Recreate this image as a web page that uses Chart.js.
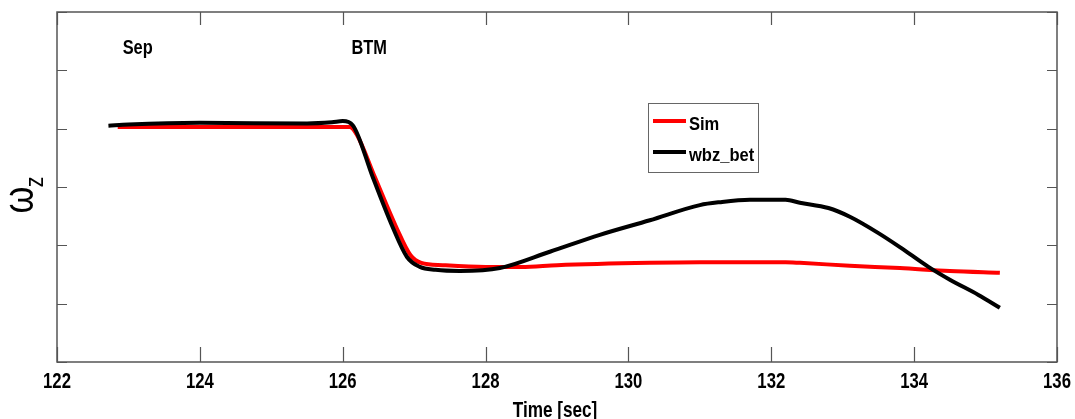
<!DOCTYPE html>
<html><head><meta charset="utf-8">
<script src="https://cdn.jsdelivr.net/npm/chart.js@4.4.1/dist/chart.umd.min.js"></script>
<style>html,body{margin:0;padding:0;background:#fff}#wrap{width:1075px;height:419px}</style>
</head><body><div id="wrap"><canvas id="c" width="1075" height="419"></canvas></div>
<script>
const simTime = [122.85,126.1,126.2,126.45,126.75,126.95,127.1,127.4,128,128.5,129,130.3,131,132.2,132.4,133.1,133.8,134.5,135.2];
const simVal  = [4.03,4.03,3.89,3.17,2.31,1.83,1.70,1.66,1.63,1.63,1.66,1.70,1.71,1.71,1.70,1.65,1.61,1.56,1.53];
const betTime = [122.72,123.0,124.0,125.5,125.85,126.0,126.14,126.42,126.7,126.9,127.08,127.3,127.64,128.2,128.9,129.6,130.3,131.0,131.28,131.7,132.2,132.4,132.8,133.1,133.5,133.8,134.2,134.5,134.9,135.2];
const betVal  = [4.05,4.07,4.10,4.09,4.11,4.13,4.06,3.17,2.31,1.80,1.63,1.58,1.56,1.61,1.89,2.18,2.43,2.69,2.74,2.78,2.78,2.73,2.64,2.49,2.21,1.97,1.63,1.41,1.15,0.93];
const xTicks = [122,124,126,128,130,132,134,136];
const yTicks = [0,1,2,3,4,5,6];
const seriesNames = ['Sim','wbz_bet'];
const eventLabels = ['Sep','BTM'];
const eventTimes = [123.13,126.37];
const xTitle = 'Time [sec]';

const FONT = "'Liberation Sans',Arial,sans-serif";
const toXY = (xs, ys) => xs.map((x,i)=>({x:x,y:ys[i]}));

function narrowText(ctx, text, x, y, font, sx, align, base){
  ctx.save();
  ctx.translate(x, y); ctx.scale(sx, 1);
  ctx.font = font; ctx.textAlign = align || 'center'; ctx.textBaseline = base || 'alphabetic';
  ctx.fillText(text, 0, 0);
  ctx.restore();
}

const framePlugin = {
  id:'frame',
  afterDraw(chart){
    const ctx = chart.ctx, a = chart.chartArea, xs = chart.scales.x, ys = chart.scales.y;
    ctx.save();
    ctx.strokeStyle = '#555'; ctx.lineWidth = 1.5;
    ctx.strokeRect(a.left, a.top, a.right-a.left, a.bottom-a.top);
    ctx.lineWidth = 1.2; ctx.strokeStyle='#555';
    xTicks.forEach(t=>{
      const px = Math.round(xs.getPixelForValue(t))+0.5;
      ctx.beginPath(); ctx.moveTo(px,a.bottom); ctx.lineTo(px,a.bottom-15);
      ctx.moveTo(px,a.top); ctx.lineTo(px,a.top+13); ctx.stroke();
    });
    yTicks.forEach(t=>{
      const py = Math.round(ys.getPixelForValue(t))+0.5;
      ctx.beginPath(); ctx.moveTo(a.left,py); ctx.lineTo(a.left+10,py);
      ctx.moveTo(a.right,py); ctx.lineTo(a.right-10,py); ctx.stroke();
    });
    ctx.fillStyle='#000';
    xTicks.forEach(t=>narrowText(ctx, String(t), xs.getPixelForValue(t), a.bottom+26, "bold 22px "+FONT, 0.76));
    narrowText(ctx, xTitle, (a.left+a.right)/2 - 2, 417, "bold 22px "+FONT, 0.78);
    eventLabels.forEach((s,i)=>narrowText(ctx, s, xs.getPixelForValue(eventTimes[i]), a.top+42, "bold 21px "+FONT, 0.78));
    // y label (omega with subscript z)
    ctx.save();
    ctx.translate(33, 200);
    ctx.rotate(-Math.PI/2);
    ctx.scale(0.82, 1);
    ctx.textAlign='center'; ctx.textBaseline='alphabetic';
    ctx.font = "42px "+FONT;
    ctx.fillText('ω', 0, 0);
    ctx.font = "26px "+FONT;
    ctx.fillText('z', 22, 10);
    ctx.restore();
    // legend
    const lx = 648, ly = 103, lw = 110, lh = 69;
    ctx.fillStyle='#fff'; ctx.fillRect(lx,ly,lw,lh);
    ctx.strokeStyle='#666'; ctx.lineWidth=1; ctx.strokeRect(lx+0.5,ly+0.5,lw,lh);
    const cols = ['#ff0000','#000000'];
    seriesNames.forEach((n,i)=>{
      const yy = ly + 18 + i*31;
      ctx.strokeStyle = cols[i]; ctx.lineWidth = 4;
      ctx.beginPath(); ctx.moveTo(lx+5,yy); ctx.lineTo(lx+38,yy); ctx.stroke();
      ctx.fillStyle='#000';
      narrowText(ctx, n, lx+41, yy+9, "bold 19px "+FONT, 0.87, 'left');
    });
    ctx.restore();
  }
};

new Chart(document.getElementById('c'), {
  type:'line',
  data:{datasets:[
    {label:seriesNames[1], data:toXY(betTime,betVal), borderColor:'#000', borderWidth:4, pointRadius:0, cubicInterpolationMode:'monotone', order:1},
    {label:seriesNames[0], data:toXY(simTime,simVal), borderColor:'#ff0000', borderWidth:4, pointRadius:0, cubicInterpolationMode:'monotone', order:2}
  ]},
  options:{
    responsive:false, animation:false, devicePixelRatio:1,
    layout:{padding:{top:12,right:18,left:0,bottom:0}},
    plugins:{legend:{display:false}, tooltip:{enabled:false}},
    scales:{
      x:{type:'linear', min:122, max:136,
        afterBuildTicks(s){ s.ticks = xTicks.map(v=>({value:v})); },
        afterFit(s){ s.height = 57; s.paddingLeft = 0; s.paddingRight = 0; },
        grid:{display:false, drawTicks:false}, border:{display:false},
        ticks:{display:false}
      },
      y:{type:'linear', min:0, max:6,
        afterBuildTicks(s){ s.ticks = yTicks.map(v=>({value:v})); },
        afterFit(s){ s.width = 57; },
        grid:{display:false, drawTicks:false}, border:{display:false},
        ticks:{display:false}
      }
    }
  },
  plugins:[framePlugin]
});
</script></body></html>
